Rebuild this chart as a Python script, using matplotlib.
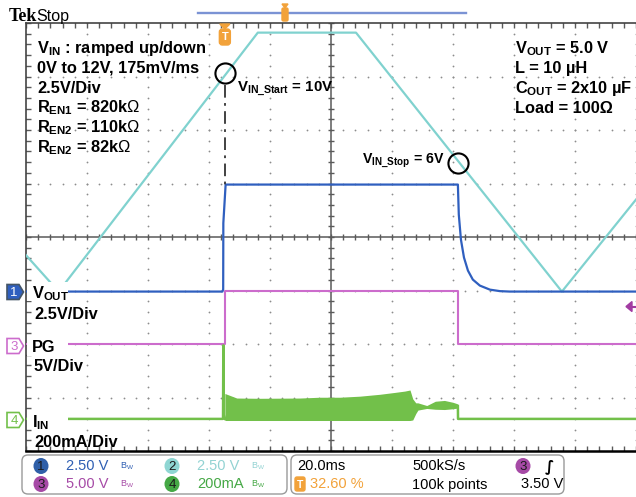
import numpy as np
import matplotlib
matplotlib.use('Agg')
import matplotlib.pyplot as plt
from matplotlib.patches import Polygon, FancyBboxPatch, Ellipse, Rectangle

plt.rcParams['font.family'] = ['Liberation Sans', 'DejaVu Sans']
plt.rcParams['mathtext.fontset'] = 'custom'
plt.rcParams['mathtext.bf'] = 'Liberation Sans:bold'
plt.rcParams['mathtext.rm'] = 'Liberation Sans'

# scope settings
ms_per_div = 20.0
trig_pos = 32.6          # % of record before trigger
ch_scale = {1: 2.5, 2: 2.5, 3: 5.0, 4: 200.0}
ch_level = {1: -1.02, 2: -1.02, 3: -2.0, 4: -3.4}
trig_level = 3.5         # V on ch3

# CH2: VIN (V) vs time (ms)
vin_t = [-65.2, -54.5, 10.8, 43.0, 110.5, 134.8]
vin_v = [1.7, 0.0, 12.1, 12.1, 0.0, 4.3]

# CH1: VOUT (V)
vout_t = [-65.2, -0.8, -0.55, -0.5, 0.25, 76.4, 76.7, 77.4, 78.4, 79.7, 81.3, 83.6, 86.9, 90.2, 93.4, 134.8]
vout_v = [0.0, 0.0, 0.1, 3.2, 5.0, 5.0, 3.6, 2.43, 1.59, 0.98, 0.56, 0.28, 0.09, 0.02, 0.0, 0.0]

# CH3: PG (V)
pg_t = [-65.2, 0.2, 0.2, 76.5, 76.5, 134.8]
pg_v = [0.0, 0.0, 5.0, 5.0, 0.0, 0.0]

# CH4: IIN (mA) - quiet parts and switching burst envelope
iin_t = [-65.2, -0.6, -0.5, -0.35, 0.1, np.nan, 76.4, 76.45, 134.8]
iin_ma = [0, 0, 275, 15, 0, np.nan, 48, 0, 0]
burst_t = [0.0, 1.6, 3.9, 11.5, 24.6, 31.1, 37.7, 44.3, 50.8, 55.7, 59.0, 60.7,
           61.6, 62.6, 63.3, 66.2, 69.0, 72.0, 74.8, 76.1, 76.4]
burst_hi = [95, 88, 78, 77, 78, 81, 81, 85, 92, 99, 104, 108,
            75, 60, 60, 50, 66, 69, 62, 57, 55]
burst_lo = [-6, -6, -6, -6, -6, -6, -6, -6, -6, -6, -6, -6,
            -4, 20, 33, 39, 36, 35, 38, 40, 42]

vin_start = (0.0, 10.2)
vin_stop = (76.5, 6.0)


def xdiv(t):
    return np.asarray(t, dtype=float) / ms_per_div - 5 + trig_pos / 10


def ydiv(v, ch):
    return ch_level[ch] + np.asarray(v, dtype=float) / ch_scale[ch]


c_vin = '#80d2cf'
c_vout = '#2f5fbf'
c_pg = '#cc6ccc'
c_iin = '#72c04a'
c_orange = '#f2a23a'

fig = plt.figure(figsize=(6.36, 4.97), dpi=100)
ax = fig.add_axes([26 / 636, 46 / 497, 610 / 636, 428 / 497])
ax.set_xlim(-5, 5)
ax.set_ylim(-4, 4)
ax.set_xticks([])
ax.set_yticks([])
for s in ['top', 'left']:
    ax.spines[s].set_color('#444444')
    ax.spines[s].set_linewidth(1.2)
ax.spines['bottom'].set_color('black')
ax.spines['bottom'].set_linewidth(1.8)
ax.spines['right'].set_visible(False)

# graticule
xm = np.arange(-25, 26) / 5.0
ym = np.arange(-20, 21) / 5.0
for k in [-4, -3, -2, -1, 1, 2, 3, 4, 5]:
    ax.plot(np.full_like(ym, k), ym, ls='none', marker='o', ms=1.3, mew=0, color='#8c8c8c', zorder=1)
for j in [-3, -2, -1, 1, 2, 3]:
    ax.plot(xm, np.full_like(xm, j), ls='none', marker='o', ms=1.3, mew=0, color='#8c8c8c', zorder=1)
ax.axhline(0, color='#5a5a5a', lw=1.1, zorder=1)
ax.axvline(0, color='#5a5a5a', lw=1.1, zorder=1)
ax.plot(xm, np.zeros_like(xm), ls='none', marker='|', ms=5, mew=1, color='#5a5a5a', zorder=1)
ax.plot(np.zeros_like(ym), ym, ls='none', marker='_', ms=5, mew=1, color='#5a5a5a', zorder=1)
ax.plot(xm, np.full_like(xm, 4), ls='none', marker='|', ms=7, mew=1, color='#5a5a5a', zorder=1)
ax.plot(xm, np.full_like(xm, -4), ls='none', marker='|', ms=7, mew=1, color='#5a5a5a', zorder=1)
ax.plot(np.full_like(ym, -5), ym, ls='none', marker='_', ms=7, mew=1, color='#5a5a5a', zorder=1)

# traces
ax.plot(xdiv(vin_t), ydiv(vin_v, 2), color=c_vin, lw=1.6, zorder=3)
ax.plot(xdiv(pg_t), ydiv(pg_v, 3), color=c_pg, lw=1.5, zorder=3)
ax.fill_between(xdiv(burst_t), ydiv(burst_lo, 4), ydiv(burst_hi, 4), color=c_iin, lw=0, zorder=3)
ax.plot(xdiv(iin_t), ydiv(iin_ma, 4), color=c_iin, lw=1.8, zorder=3)
ax.plot(xdiv(vout_t), ydiv(vout_v, 1), color=c_vout, lw=1.6, zorder=4)

# VIN start / stop markers
for t, v in [vin_start, vin_stop]:
    ax.plot(xdiv(t), ydiv(v, 2), ls='none', marker='o', ms=14.5, mfc='none', mec='black', mew=1.5, zorder=6)
ax.plot([xdiv(vin_start[0])] * 2, [ydiv(vin_start[1], 2) - 0.22, ydiv(5.0, 1)],
        color='#333333', lw=1.3, ls=(0, (7, 3, 1.5, 3)), zorder=5)

# overlay in pixel coordinates for annotations
ov = fig.add_axes([0, 0, 1, 1], zorder=3)
ov.set_xlim(0, 636)
ov.set_ylim(497, 0)
ov.axis('off')

fs = 11.8
left_lines = [r'$\mathbf{V_{IN}}$ : ramped up/down', '0V to 12V, 175mV/ms', '2.5V/Div',
              r'$\mathbf{R_{EN1}}$ = 820k$\mathrm{\Omega}$', r'$\mathbf{R_{EN2}}$ = 110k$\mathrm{\Omega}$',
              r'$\mathbf{R_{EN2}}$ = 82k$\mathrm{\Omega}$']
for i, s in enumerate(left_lines):
    ov.text(37, 53 + 19.8 * i, s, fontsize=fs, fontweight='bold', va='baseline', ha='left')
right_lines = [r'$\mathbf{V_{OUT}}$ = 5.0 V', 'L = 10 µH', r'$\mathbf{C_{OUT}}$ = 2x10 µF', 'Load = 100Ω']
for i, s in enumerate(right_lines):
    ov.text(515, 53 + 20 * i, s, fontsize=fs, fontweight='bold', va='baseline', ha='left')
ov.text(237, 91, r'$\mathbf{V_{IN\_Start}}$ = 10V', fontsize=10.8, fontweight='bold', va='baseline')
ov.text(362, 163, r'$\mathbf{V_{IN\_Stop}}$ = 6V', fontsize=10.2, fontweight='bold', va='baseline')

# white patches behind the channel labels (traces start right of them)
for y0 in [282, 337, 410]:
    ov.add_patch(Rectangle((27, y0), 41, 19, facecolor='white', edgecolor='none', zorder=3))

ov.text(32, 298, r'$\mathbf{V_{OUT}}$', fontsize=fs, va='baseline', zorder=4)
ov.text(34, 319, '2.5V/Div', fontsize=fs, fontweight='bold', va='baseline')
ov.text(32, 352, 'PG', fontsize=fs, fontweight='bold', va='baseline', zorder=4)
ov.text(34, 371, '5V/Div', fontsize=fs, fontweight='bold', va='baseline')
ov.text(32, 427, r'$\mathbf{I_{IN}}$', fontsize=fs, va='baseline', zorder=4)
ov.text(34, 447, '200mA/Div', fontsize=fs, fontweight='bold', va='baseline')

# channel ground markers
for ch, yy, col, filled in [(1, 292, c_vout, True), (3, 346, c_pg, False), (4, 420, c_iin, False)]:
    pts = [(7, yy - 7.5), (19, yy - 7.5), (23.5, yy), (19, yy + 7.5), (7, yy + 7.5)]
    ov.add_patch(Polygon(pts, closed=True, facecolor=col if filled else 'white',
                         edgecolor='#445566' if filled else col, lw=1.2, zorder=5))
    ov.text(14, yy + 0.5, str(ch), fontsize=9.5, color='white' if filled else col,
            ha='center', va='center', zorder=6)

# trigger level arrow at right edge
ty = 237 - 53.5 * ydiv(trig_level, 3)
ov.add_patch(Polygon([(626, ty), (632, ty - 5), (632, ty + 5)], closed=True, color='#a23ca2', zorder=5))
ov.plot([630, 636], [ty, ty], color='#a23ca2', lw=1.5)

# trigger position marker and record bar
tx = 331 + 61 * xdiv(0.0)
ov.add_patch(Polygon([(tx - 5, 24), (tx + 5, 24), (tx, 29)], closed=True, color=c_orange, zorder=5))
ov.add_patch(FancyBboxPatch((tx - 5.5, 29), 11, 16, boxstyle='round,pad=0,rounding_size=3',
                            color=c_orange, zorder=5))
ov.text(tx, 37.5, 'T', fontsize=8, fontweight='bold', color='white', ha='center', va='center', zorder=6)
ov.plot([198, 466], [12.7, 12.7], color='#7b93d4', lw=1.7)
ov.add_patch(Polygon([(282, 4), (288, 4), (285, 8)], closed=True, color=c_orange, zorder=5))
ov.add_patch(FancyBboxPatch((282, 8), 6, 13, boxstyle='round,pad=0,rounding_size=1.5',
                            color=c_orange, zorder=5))

# Tek Stop
ov.text(9, 21, 'Tek', fontsize=13, fontweight='bold', family='Liberation Serif', va='baseline')
ov.text(36, 21, 'Stop', fontsize=11.5, family='Liberation Sans', va='baseline')

# readout panel
rf = 10.5
ov.add_patch(FancyBboxPatch((22, 455), 265, 39, boxstyle='round,pad=0,rounding_size=6',
                            facecolor='white', edgecolor='#9a9a9a', lw=1.0))
ov.add_patch(FancyBboxPatch((291, 455), 273, 39, boxstyle='round,pad=0,rounding_size=6',
                            facecolor='white', edgecolor='#9a9a9a', lw=1.0))
badges = [(41, 466, '1', '#2f5fa8', '2.50 V', '#2f5fb3'),
          (172, 466, '2', '#8fd6d3', '2.50 V', '#93d3d3'),
          (41, 484, '3', '#a64aa6', '5.00 V', '#a64aa6'),
          (172, 484, '4', '#45a845', '200mA', '#45a845')]
for bx, by, num, fcol, val, tcol in badges:
    ov.add_patch(Ellipse((bx, by), 15, 16, facecolor=fcol, edgecolor='none'))
    ov.text(bx, by + 0.5, num, fontsize=9.5, color='#1a1a1a', ha='center', va='center')
    ov.text(bx + 25, by + 0.5, val, fontsize=rf, color=tcol, va='center')
    ov.text(bx + 86, by, r'$\mathrm{B_W}$', fontsize=6.5, color=tcol, ha='center', va='center')

ov.text(297, 466.5, '20.0ms', fontsize=rf, va='center')
ov.text(412, 466.5, '500kS/s', fontsize=rf, va='center')
ov.add_patch(Ellipse((523, 466), 15, 16, facecolor='#a64aa6', edgecolor='none'))
ov.text(523, 466.5, '3', fontsize=9.5, color='#1a1a1a', ha='center', va='center')
ov.text(549, 466, '∫', fontsize=11, fontweight='bold', family='DejaVu Sans', ha='center', va='center')
ov.add_patch(FancyBboxPatch((295, 477), 10, 14, boxstyle='round,pad=0,rounding_size=2', color=c_orange))
ov.text(300, 484.5, 'T', fontsize=7.5, fontweight='bold', color='white', ha='center', va='center')
ov.text(310, 484.5, '32.60 %', fontsize=rf, color=c_orange, va='center')
ov.text(412, 484.5, '100k points', fontsize=rf, va='center')
ov.text(521, 484.5, '3.50 V', fontsize=rf, va='center')

fig.savefig('out.png', dpi=100)
